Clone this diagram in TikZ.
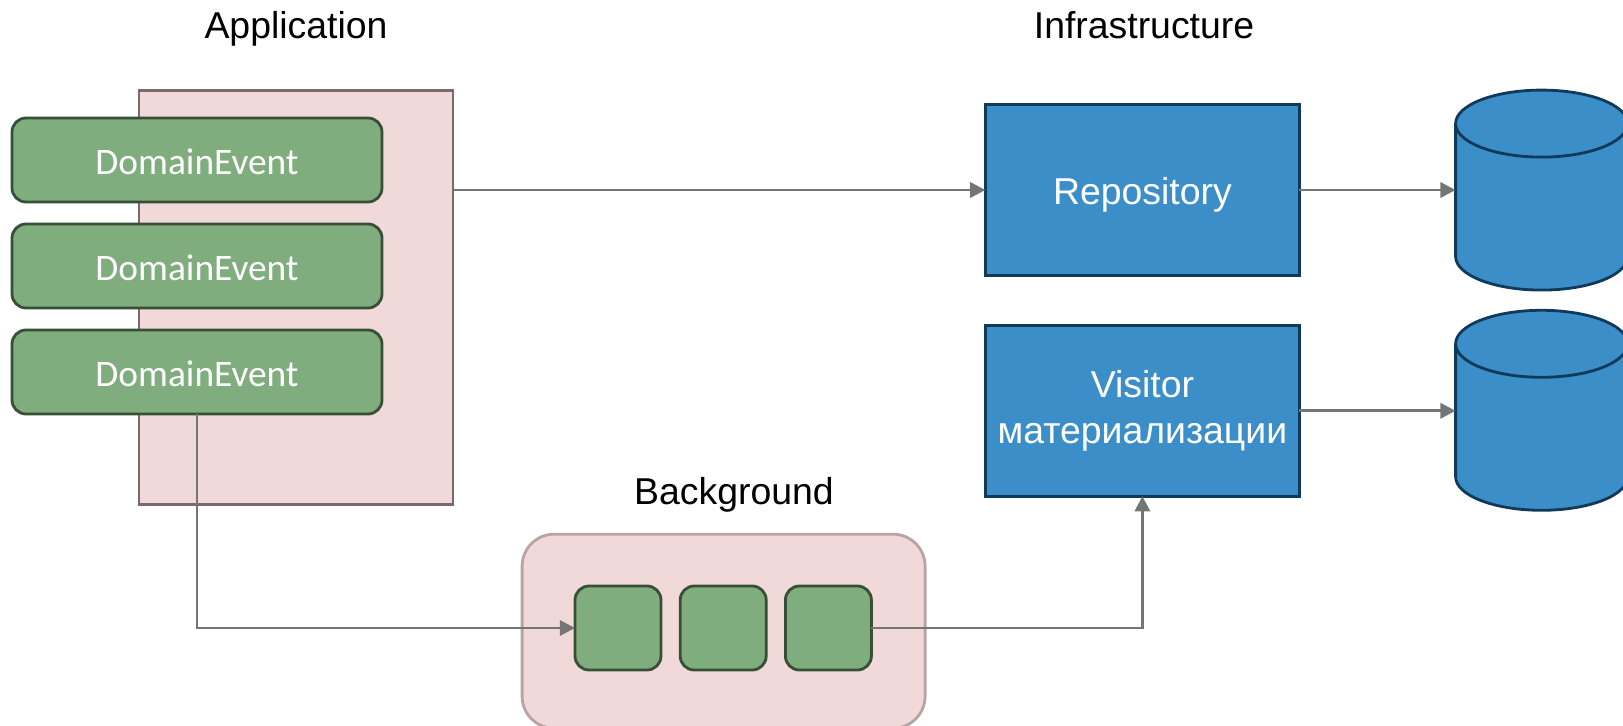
\documentclass[tikz,border=0pt]{standalone}
\usepackage{fontspec}
\setmainfont{Liberation Sans}
\newfontfamily\eventfont{Carlito}
\usepackage{xcolor}
\usepackage{tikz}
\usetikzlibrary{arrows.meta, positioning, shapes.geometric}

\definecolor{pinkfill}{HTML}{F2D9D9}
\definecolor{pinkline}{HTML}{7A6A6A}
\definecolor{pinksoft}{HTML}{B8A4A4}
\definecolor{greenfill}{HTML}{7FAD7D}
\definecolor{greenline}{HTML}{374F36}
\definecolor{bluefill}{HTML}{3B8EC8}
\definecolor{blueline}{HTML}{103A5A}
\definecolor{arrowgray}{HTML}{757575}

\begin{document}
\begin{tikzpicture}[
    y=-1cm,
    outer sep=0pt,
    event/.style={
        rectangle,
        draw=greenline,
        line width=2pt,
        fill=greenfill,
        text=white,
        font=\eventfont\fontsize{26.6}{31}\selectfont,
        text height=21pt,
        text depth=0pt,
        minimum width=9.25cm,
        minimum height=2.1cm,
        rounded corners=0.35cm
    },
    slot/.style={
        event,
        minimum width=2.15cm,
        minimum height=2.1cm
    },
    service/.style={
        rectangle,
        draw=blueline,
        line width=2pt,
        fill=bluefill,
        text=white,
        align=center,
        font=\fontsize{26.6}{33}\selectfont,
        minimum width=7.85cm,
        minimum height=4.27cm
    },
    store/.style={
        cylinder,
        shape border rotate=90,
        aspect=7.15,
        draw=blueline,
        line width=2pt,
        fill=bluefill,
        minimum width=4.3cm,
        minimum height=5cm
    },
    heading/.style={
        anchor=base,
        font=\fontsize{26.6}{31}\selectfont
    },
    arrow/.style={
        -{Triangle[length=0.38cm,width=0.38cm]},
        line width=2pt,
        color=arrowgray
    }
]
\useasboundingbox (0,0) rectangle (40.575,18.13);

% Application side
\node[heading] (apptitle) at (7.4,0.97) {Application};
\node[rectangle, draw=pinkline, line width=2pt, fill=pinkfill, minimum width=7.85cm, minimum height=10.35cm] (app) at (7.4,7.43) {};
\node[event] (event1) at (4.925,4) {DomainEvent};
\node[event, below=0.55cm of event1] (event2) {DomainEvent};
\node[event, below=0.55cm of event2] (event3) {DomainEvent};

% Infrastructure side
\node[heading] (infratitle) at (28.6,0.97) {Infrastructure};
\node[service, text height=20pt, text depth=0pt] (repo) at (28.56,4.75) {Repository};
\node[service, below=1.25cm of repo] (visitor) {Visitor\\материализации};
\node[store] (store1) at (38.54,5.325) {};
\node[store] (store2) at (38.54,10.83) {};

% Background queue
\node[heading] (bgtitle) at (18.35,12.62) {Background};
\node[rectangle, draw=pinksoft, line width=2pt, fill=pinkfill, minimum width=10.075cm, minimum height=4.85cm, rounded corners=0.8cm] (queue) at (18.09,15.78) {};
\node[slot] (slot1) at (15.45,15.7) {};
\node[slot, right=0.48cm of slot1] (slot2) {};
\node[slot, right=0.48cm of slot2] (slot3) {};

% Arrows
\draw[arrow] (app.east |- repo.west) -- (repo.west);
\draw[arrow] (repo.east) -- (store1.west |- repo.east);
\draw[arrow] (visitor.east) -- (store2.west |- visitor.east);
\draw[arrow] (event3.south) |- (slot1.west);
\draw[arrow] (slot3.east) -| (visitor.south);

\end{tikzpicture}
\end{document}
